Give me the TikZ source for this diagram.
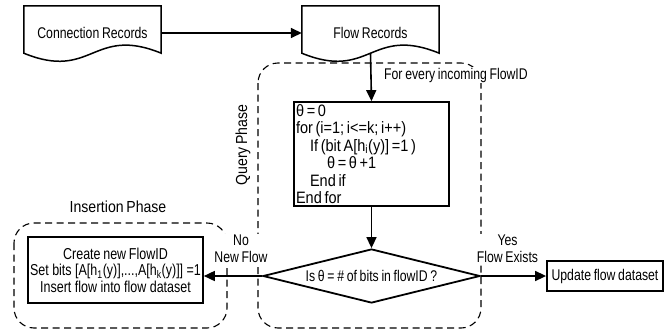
\documentclass[tikz,border=0pt]{standalone}
\usepackage{fontspec}
\setmainfont{Liberation Sans}[FakeStretch=0.79]
\newfontfamily\phasefont{Liberation Sans}[FakeStretch=0.88]
\newcommand\tightspace{\spaceskip=2.7pt plus 1pt minus 0.5pt\xspaceskip=2.7pt\relax}
\usetikzlibrary{arrows.meta,shapes.geometric}

\begin{document}
\begin{tikzpicture}[x=1pt,y=-1pt,
  every node/.style={font=\fontsize{15.5}{17.5}\selectfont\tightspace},
  docshape/.style={minimum width=137pt,minimum height=47pt,inner sep=0pt,
    text height=17pt,text depth=0pt},
  docline/.style={line width=1.5pt,line join=miter},
  flowbox/.style={draw,line width=1.8pt,rectangle,inner sep=2pt},
  decision/.style={draw,line width=1.8pt,diamond,aspect=4,inner sep=0pt,
    minimum width=217pt,minimum height=54pt},
  arrowline/.style={line width=1.6pt,-{Triangle[length=11pt,width=10pt]}},
  phaseframe/.style={line width=1.1pt,dash pattern=on 7pt off 4.5pt,
    rounded corners=20pt},
  phaselabel/.style={font=\phasefont\fontsize{16}{18}\selectfont\tightspace},
  flowlabel/.style={fill=white,inner sep=1pt,
    font=\fontsize{15.5}{17}\selectfont\tightspace}
]
\useasboundingbox (0,0) rectangle (664,332);

% dashed phase frames
\draw[phaseframe] (14,223) rectangle (227,328);
\draw[phaseframe] (258,63) rectangle (481,328);

% document shapes
\node[docshape] (conn) at (92.5,29.5) {Connection Records};
\node[docshape] (flow) at (370.5,29.5) {Flow Records};
\draw[docline] (conn.south west) -- (conn.north west) -- (conn.north east)
  -- (conn.south east) .. controls +(-68.5,-28) and +(68.5,28) .. (conn.south west) -- cycle;
\draw[docline] (flow.south west) -- (flow.north west) -- (flow.north east)
  -- (flow.south east) .. controls +(-68.5,-28) and +(68.5,28) .. (flow.south west) -- cycle;

% query loop (aligned text resets the interword space, so set it again inside)
\node[flowbox,align=left,text width=151pt,minimum height=104pt,
  font=\phasefont\fontsize{16.5}{17.5}\selectfont] (loop) at (371.5,154)
  {\tightspace θ = 0\\
   for (i=1; i<=k; i++)\\
   \hspace*{14pt}If (bit A[h\textsubscript{i}(y)] =1 )\\
   \hspace*{31pt}θ = θ +1\\
   \hspace*{14pt}End if\\
   End for};

% decision
\node[decision] (test) at (371.5,276) {Is θ = \# of bits in flowID ?};

% outcomes
\node[flowbox,align=center,minimum width=169pt,minimum height=66pt,
  font=\fontsize{15.8}{16.5}\selectfont] (insert) at (115.5,270)
  {\tightspace Create new FlowID\\
   Set bits [A[h\textsubscript{1}(y)],...,A[h\textsubscript{k}(y)]] =1\\
   Insert flow into flow dataset};
\node[flowbox,minimum width=116pt,minimum height=30pt] (update) at (605,276)
  {Update flow dataset};

% connectors
\draw[arrowline] ([yshift=-3.5pt]conn.east) -- ([yshift=-3.5pt]flow.west);
\draw[arrowline] (flow.south) -- (loop.north);
\draw[arrowline] (loop.south) -- (test.north);
\draw[arrowline] (test.east) -- (update.west);
\draw[arrowline] (test.west) -- (test.west -| insert.east);

% labels
\node[flowlabel,anchor=west] (every) at (383,75) {For every incoming FlowID};
\node[flowlabel,align=center] (nolabel) at (241,249) {\tightspace No\\New Flow};
\node[flowlabel,align=center] (yeslabel) at (507.5,248.5) {\tightspace Yes\\Flow Exists};
\node[phaselabel] (insphase) at (118,207) {Insertion Phase};
\node[phaselabel,rotate=90] (qphase) at (243,145) {Query Phase};
\end{tikzpicture}
\end{document}
